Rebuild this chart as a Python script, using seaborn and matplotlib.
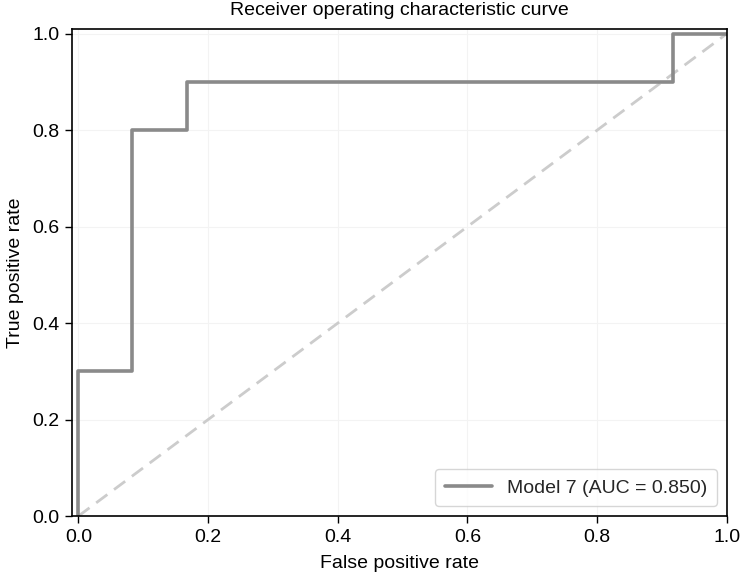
import numpy as np
import pandas as pd
import matplotlib
matplotlib.use("Agg")
import matplotlib.pyplot as plt
import seaborn as sns

# ROC points
fpr = [0.0, 0.0, 0.083, 0.083, 0.167, 0.167, 0.917, 0.917, 1.0]
tpr = [0.0, 0.3, 0.3, 0.8, 0.8, 0.9, 0.9, 1.0, 1.0]
diag = [0.0, 1.0]
label = "Model 7 (AUC = 0.850)"

sns.set_theme(style="whitegrid")
plt.rcParams['font.family'] = ['Liberation Sans', 'DejaVu Sans']

fig = plt.figure(figsize=(7.41, 5.76), dpi=100)
ax = fig.add_axes([0.097, 0.104, 0.884, 0.846])

df = pd.DataFrame({'fpr': fpr, 'tpr': tpr})
ax.plot(diag, diag, linestyle='--', color='#cccccc', lw=2, dashes=(5, 3))
sns.lineplot(data=df, x='fpr', y='tpr', sort=False, estimator=None,
             color='#8a8a8a', lw=2.6, label=label, ax=ax)

ticks = np.arange(0, 1.01, 0.2)
ax.set_xlim(-0.01, 1.0)
ax.set_ylim(0.0, 1.01)
ax.set_xticks(ticks)
ax.set_yticks(ticks)
ax.set_xticklabels([f"{v:.1f}" for v in ticks])
ax.set_yticklabels([f"{v:.1f}" for v in ticks])
ax.grid(True, color='#f3f3f3', lw=0.8)
for s in ax.spines.values():
    s.set_color('black')
    s.set_linewidth(1.2)
ax.tick_params(axis='both', which='both', length=5, width=1, color='black',
               labelsize=14, labelcolor='black', bottom=True, left=True, pad=4)
ax.set_xlabel("False positive rate", fontsize=14, color='black', labelpad=7)
ax.set_ylabel("True positive rate", fontsize=14, color='black', labelpad=6)
ax.set_title("Receiver operating characteristic curve", fontsize=14, color='black', pad=10)
leg = ax.legend(loc='lower right', fontsize=14, frameon=True, handlelength=2.4,
                borderpad=0.5)
leg.get_frame().set_edgecolor('#cccccc')

fig.savefig("out.png", dpi=100)
